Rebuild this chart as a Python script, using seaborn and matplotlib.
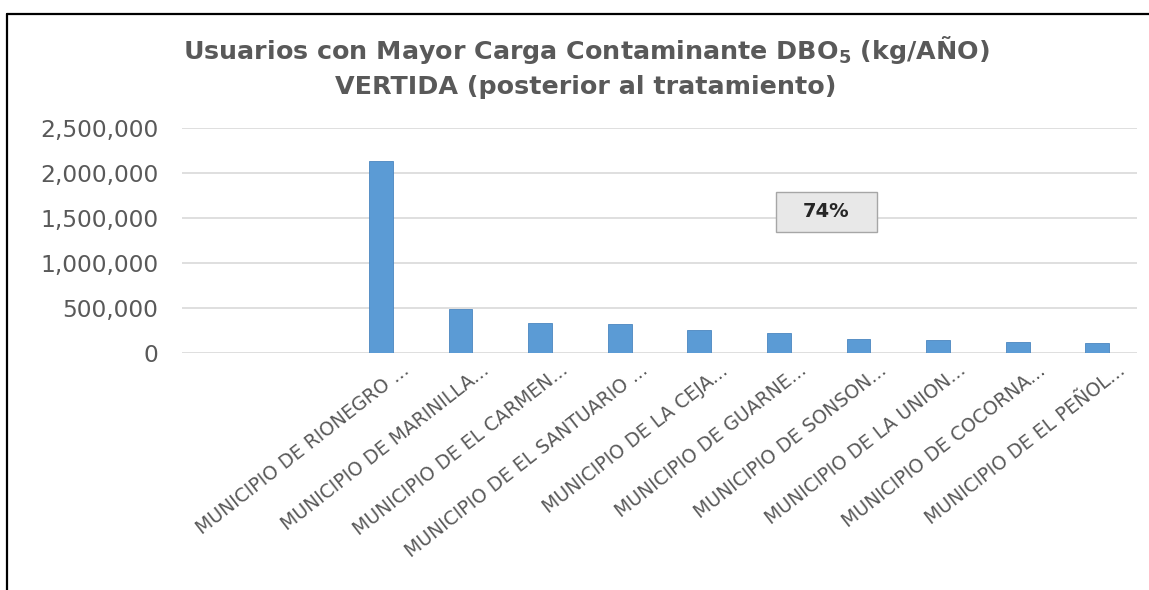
import matplotlib
matplotlib.use("Agg")
import matplotlib.pyplot as plt
import matplotlib.transforms as mtransforms
from matplotlib.lines import Line2D
from matplotlib.patches import Rectangle
from matplotlib.ticker import FuncFormatter
import seaborn as sns
import pandas as pd

# ---- data ----
municipios = [
    "MUNICIPIO DE RIONEGRO ...",
    "MUNICIPIO DE MARINILLA...",
    "MUNICIPIO DE EL CARMEN...",
    "MUNICIPIO DE EL SANTUARIO ...",
    "MUNICIPIO DE LA CEJA...",
    "MUNICIPIO DE GUARNE...",
    "MUNICIPIO DE SONSON...",
    "MUNICIPIO DE LA UNION...",
    "MUNICIPIO DE COCORNA...",
    "MUNICIPIO DE EL PEÑOL...",
]
carga_dbo5 = [2129000, 492000, 337000, 326000, 255000, 218000, 158000, 144000, 127000, 112000]
empty_slots = [" ", "  "]
order = empty_slots + municipios
yticks = [0, 500000, 1000000, 1500000, 2000000, 2500000]
title = "Usuarios con Mayor Carga Contaminante DBO$_{\\mathbf{5}}$ (kg/AÑO)\nVERTIDA (posterior al tratamiento)"
annotation = "74%"

sns.set_theme(style="white")
plt.rcParams['font.family'] = ['DejaVu Sans']
plt.rcParams['mathtext.fontset'] = 'dejavusans'

df = pd.DataFrame({"municipio": municipios, "carga": carga_dbo5})

fig = plt.figure(figsize=(11.49, 5.90), dpi=100)
ax = fig.add_axes([0.1584, 0.4017, 0.8312, 0.3813])

sns.barplot(data=df, x="municipio", y="carga", order=order, color="#5B9BD5",
            width=0.3, edgecolor="#4A86C0", linewidth=0.6, saturation=1, ax=ax, zorder=3)

ax.set_ylim(0, 2500000)
ax.set_yticks(yticks)
ax.yaxis.set_major_formatter(FuncFormatter(lambda v, p: f"{int(v):,}"))
ax.grid(axis="y", color="#D9D9D9", linewidth=1.2, zorder=0)
ax.grid(axis="x", visible=False)
for s in ax.spines.values():
    s.set_visible(False)
ax.set_xlabel("")
ax.set_ylabel("")
ax.tick_params(axis="y", length=0, pad=17, labelsize=16.8, labelcolor="#595959")
ax.tick_params(axis="x", length=0, pad=4, labelsize=13.6, labelcolor="#595959")
offset = mtransforms.ScaledTranslation(0.2, -0.02, fig.dpi_scale_trans)
for lab in ax.get_xticklabels():
    lab.set_rotation(38)
    lab.set_ha("right")
    lab.set_va("top")
    lab.set_rotation_mode("anchor")
    lab.set_transform(lab.get_transform() + offset)

# annotation box
rect = Rectangle((0.622, 0.538), 0.1055, 0.178, transform=ax.transAxes,
                 facecolor="#E8E8E8", edgecolor="#A6A6A6", linewidth=1, zorder=4)
ax.add_patch(rect)
ax.text(0.622 + 0.1055 / 2, 0.538 + 0.178 / 2, annotation, transform=ax.transAxes,
        ha="center", va="center", fontsize=14, fontweight="bold", color="#262626", zorder=5)

fig.text(0.510, 0.887, title, ha="center", va="center", fontsize=18.3,
         fontweight="bold", color="#595959", linespacing=1.45)

# frame lines
fig.add_artist(Line2D([0.0065, 0.0065], [0.0, 0.976], transform=fig.transFigure,
                      color="black", linewidth=1.6))
fig.add_artist(Line2D([0.0065, 1.0], [0.976, 0.976], transform=fig.transFigure,
                      color="black", linewidth=1.6))

fig.savefig("out.png", dpi=100, facecolor="white")
